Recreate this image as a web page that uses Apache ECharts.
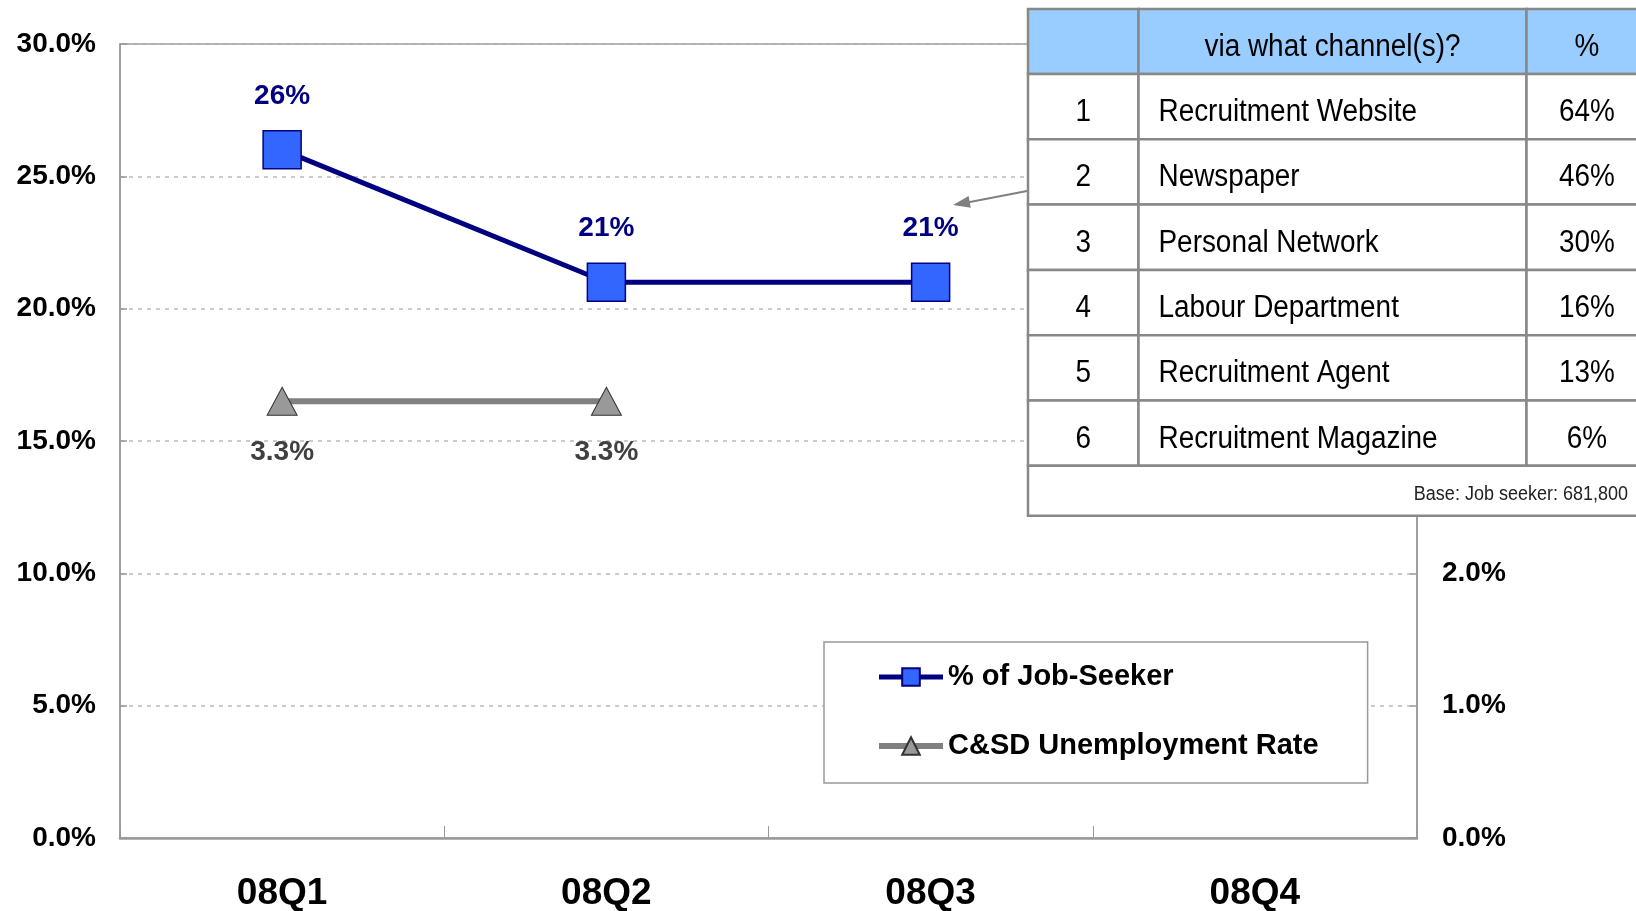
<!DOCTYPE html>
<html>
<head>
<meta charset="utf-8">
<title>Job-Seeker channels</title>
<script src="https://cdn.jsdelivr.net/npm/echarts@6.0.0/dist/echarts.min.js"></script>
<style>
  html, body { margin: 0; padding: 0; background: #fff; }
  #chart { width: 1636px; height: 911px; }
</style>
</head>
<body>
<div id="chart"></div>
<script>
// chart data
var quarters = ['08Q1', '08Q2', '08Q3', '08Q4'];
var jobSeekerPct = [26, 21, 21, null];
var unemploymentRate = [3.3, 3.3, null, null];

// table data
var tableHeader = ['', 'via what channel(s)?', '%'];
var channelRank = ['1', '2', '3', '4', '5', '6'];
var channelName = ['Recruitment Website', 'Newspaper', 'Personal Network',
    'Labour Department', 'Recruitment Agent', 'Recruitment Magazine'];
var channelPct = ['64%', '46%', '30%', '16%', '13%', '6%'];
var baseNote = 'Base: Job seeker: 681,800';

var boldFont = 'Liberation Sans, Arial, Helvetica, sans-serif';
var tableFont = 'Liberation Sans, Arial, sans-serif';
var gridColor = '#999';

// table layout (narrow look: plain sans squeezed horizontally)
var colX = [1028, 1138.5, 1526.5, 1650];
var tableTop = 9, headH = 65, rowH = 65.3, baseH = 50;
var squeeze = 0.9;

function cellText(text, x, y, align, size) {
    return {
        type: 'text', z: 101, x: x, y: y, scaleX: squeeze,
        style: { text: text, font: (size || 31) + 'px ' + tableFont, fill: '#000',
            align: align, verticalAlign: 'middle' }
    };
}

function buildTable() {
    var els = [];
    var cellStroke = { stroke: '#888', lineWidth: 2.5 };
    var y = tableTop;
    // header
    for (var c = 0; c < 3; c++) {
        els.push({
            type: 'rect', z: 100,
            shape: { x: colX[c], y: y, width: colX[c + 1] - colX[c], height: headH },
            style: Object.assign({ fill: '#99CCFF' }, cellStroke)
        });
        if (tableHeader[c]) {
            var hx = c === 2 ? 1587 : (colX[c] + colX[c + 1]) / 2;
            els.push(cellText(tableHeader[c], hx, y + headH / 2 + 6, 'center'));
        }
    }
    y += headH;
    for (var i = 0; i < channelName.length; i++) {
        for (var k = 0; k < 3; k++) {
            els.push({
                type: 'rect', z: 100,
                shape: { x: colX[k], y: y, width: colX[k + 1] - colX[k], height: rowH },
                style: Object.assign({ fill: '#fff' }, cellStroke)
            });
        }
        var cy = y + rowH / 2 + 6;
        els.push(cellText(channelRank[i], (colX[0] + colX[1]) / 2, cy, 'center'));
        els.push(cellText(channelName[i], colX[1] + 20, cy, 'left'));
        els.push(cellText(channelPct[i], 1587, cy, 'center'));
        y += rowH;
    }
    els.push({
        type: 'rect', z: 100,
        shape: { x: colX[0], y: y, width: colX[3] - colX[0], height: baseH },
        style: Object.assign({ fill: '#fff' }, cellStroke)
    });
    var note = cellText(baseNote, 1628, y + baseH / 2 + 4, 'right', 20);
    note.style.fill = '#222';
    els.push(note);

    // pointer from the table to the 08Q3 label
    els.push({ type: 'line', z: 102,
        shape: { x1: 1027, y1: 191, x2: 966, y2: 202.7 },
        style: { stroke: '#808080', lineWidth: 2 } });
    els.push({ type: 'polygon', z: 102,
        shape: { points: [[953, 205], [970.8, 207.7], [968.6, 195.9]] },
        style: { fill: '#808080' } });
    return els;
}

var chart = echarts.init(document.getElementById('chart'));
chart.setOption({
    animation: false,
    grid: {
        left: 120, right: 219, top: 44, bottom: 73,
        outerBoundsMode: 'none',
        show: true, borderColor: gridColor, borderWidth: 1.5
    },
    legend: {
        left: 824, top: 642,
        orient: 'vertical',
        padding: [19, 49, 21, 52],
        itemGap: 37,
        itemWidth: 64,
        itemHeight: 22,
        borderColor: '#999',
        borderWidth: 1.5,
        backgroundColor: '#fff',
        textStyle: { fontFamily: boldFont, fontWeight: 'bold', fontSize: 29, color: '#000', lineHeight: 32 },
        data: [
            { name: '% of Job-Seeker', lineStyle: { width: 5, color: '#000080' } },
            { name: 'C&SD Unemployment Rate', lineStyle: { width: 6, color: '#808080' } }
        ]
    },
    xAxis: {
        type: 'category',
        data: quarters,
        boundaryGap: true,
        axisLine: { lineStyle: { color: gridColor, width: 2.5 } },
        axisTick: { show: true, inside: true, length: 12, interval: 0, lineStyle: { color: gridColor, width: 1 } },
        axisLabel: { margin: 37, fontFamily: boldFont, fontWeight: 'bold', fontSize: 37, color: '#000' }
    },
    yAxis: [{
        type: 'value', min: 0, max: 30, interval: 5,
        axisLine: { show: true, lineStyle: { color: gridColor, width: 1.5 } },
        axisTick: { show: true, inside: true, length: 7, lineStyle: { color: gridColor, width: 1.5 } },
        splitLine: { show: true, lineStyle: { color: '#bbb', width: 1.5, type: [4, 5] } },
        axisLabel: { margin: 24, fontFamily: boldFont, fontWeight: 'bold', fontSize: 28, color: '#000',
            formatter: function (v) { return v.toFixed(1) + '%'; } }
    }, {
        type: 'value', min: 0, max: 6, interval: 1, position: 'right',
        axisLine: { show: true, lineStyle: { color: gridColor, width: 1.5 } },
        axisTick: { show: true, inside: true, length: 7, lineStyle: { color: gridColor, width: 1.5 } },
        splitLine: { show: false },
        axisLabel: { margin: 25, fontFamily: boldFont, fontWeight: 'bold', fontSize: 28, color: '#000',
            formatter: function (v) { return v.toFixed(1) + '%'; } }
    }],
    series: [{
        name: '% of Job-Seeker',
        type: 'line',
        data: jobSeekerPct,
        yAxisIndex: 0,
        symbol: 'rect',
        symbolSize: 38,
        z: 3,
        lineStyle: { color: '#000080', width: 5 },
        itemStyle: { color: '#3366FF', borderColor: '#000080', borderWidth: 1.5 },
        label: { show: true, position: 'top', distance: 20, formatter: '{c}%',
            fontFamily: boldFont, fontWeight: 'bold', fontSize: 28, color: '#000080' }
    }, {
        name: 'C&SD Unemployment Rate',
        type: 'line',
        data: unemploymentRate,
        yAxisIndex: 1,
        symbol: 'triangle',
        symbolSize: [30, 28],
        z: 2,
        lineStyle: { color: '#808080', width: 6 },
        itemStyle: { color: '#999999', borderColor: '#333', borderWidth: 1 },
        label: { show: true, position: 'bottom', distance: 22, formatter: '{c}%',
            fontFamily: boldFont, fontWeight: 'bold', fontSize: 28, color: '#404040' }
    }],
    graphic: buildTable()
});
</script>
</body>
</html>
